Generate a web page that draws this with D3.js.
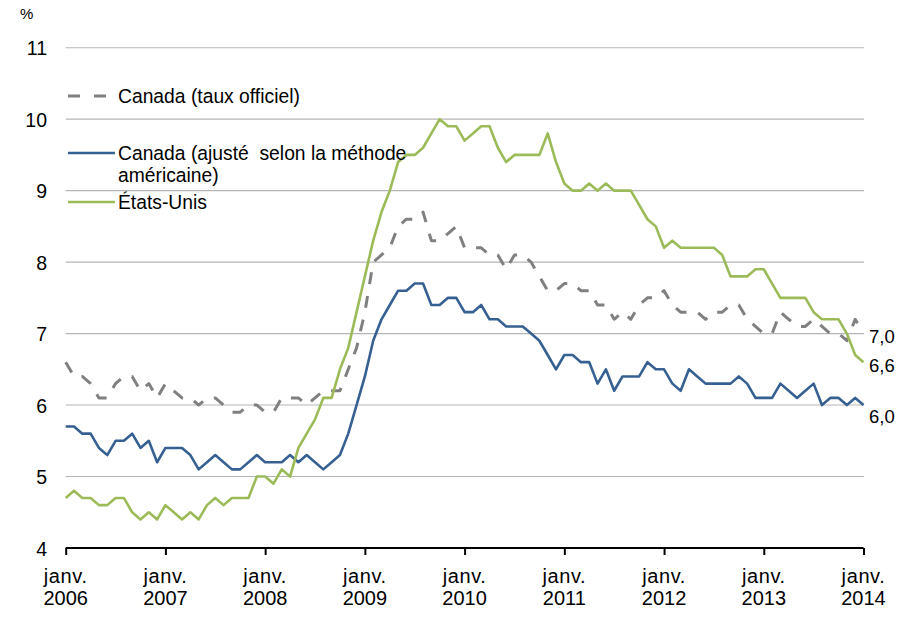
<!DOCTYPE html>
<html><head><meta charset="utf-8">
<script src="https://cdn.jsdelivr.net/npm/d3@7"></script>
<style>
body{margin:0;background:#fff}
svg{display:block}
text{font-family:"Liberation Sans",Arial,Helvetica,sans-serif;fill:#000}
</style>
</head><body>
<svg id="chart" width="900" height="622"></svg>
<script>
// ---- data (monthly, janv. 2006 to janv. 2014) ----
const tickYears = ["2006","2007","2008","2009","2010","2011","2012","2013","2014"];
const tickMonth = "janv.";
const yTicks = [4,5,6,7,8,9,10,11];
const unitLabel = "%";

const canadaOfficial = [
 6.6,6.4,6.4,6.3,6.1,6.1,6.3,6.4,6.4,6.2,6.3,6.1,
 6.3,6.2,6.1,6.1,6.0,6.1,6.1,6.0,5.9,5.9,6.0,6.0,
 5.9,5.9,6.1,6.1,6.1,6.0,6.1,6.2,6.2,6.2,6.5,6.8,
 7.3,8.0,8.1,8.2,8.5,8.6,8.6,8.7,8.3,8.3,8.4,8.5,
 8.2,8.2,8.2,8.1,8.1,7.9,8.1,8.1,8.0,7.8,7.6,7.6,
 7.7,7.7,7.6,7.6,7.4,7.4,7.2,7.3,7.2,7.4,7.5,7.5,
 7.6,7.4,7.3,7.3,7.3,7.2,7.3,7.3,7.4,7.4,7.2,7.1,
 7.0,7.0,7.3,7.2,7.1,7.1,7.2,7.1,7.0,7.0,6.9,7.2,
 7.0];

const canadaAdjusted = [
 5.7,5.7,5.6,5.6,5.4,5.3,5.5,5.5,5.6,5.4,5.5,5.2,
 5.4,5.4,5.4,5.3,5.1,5.2,5.3,5.2,5.1,5.1,5.2,5.3,
 5.2,5.2,5.2,5.3,5.2,5.3,5.2,5.1,5.2,5.3,5.6,6.0,
 6.4,6.9,7.2,7.4,7.6,7.6,7.7,7.7,7.4,7.4,7.5,7.5,
 7.3,7.3,7.4,7.2,7.2,7.1,7.1,7.1,7.0,6.9,6.7,6.5,
 6.7,6.7,6.6,6.6,6.3,6.5,6.2,6.4,6.4,6.4,6.6,6.5,
 6.5,6.3,6.2,6.5,6.4,6.3,6.3,6.3,6.3,6.4,6.3,6.1,
 6.1,6.1,6.3,6.2,6.1,6.2,6.3,6.0,6.1,6.1,6.0,6.1,
 6.0];

const unitedStates = [
 4.7,4.8,4.7,4.7,4.6,4.6,4.7,4.7,4.5,4.4,4.5,4.4,
 4.6,4.5,4.4,4.5,4.4,4.6,4.7,4.6,4.7,4.7,4.7,5.0,
 5.0,4.9,5.1,5.0,5.4,5.6,5.8,6.1,6.1,6.5,6.8,7.3,
 7.8,8.3,8.7,9.0,9.4,9.5,9.5,9.6,9.8,10.0,9.9,9.9,
 9.7,9.8,9.9,9.9,9.6,9.4,9.5,9.5,9.5,9.5,9.8,9.4,
 9.1,9.0,9.0,9.1,9.0,9.1,9.0,9.0,9.0,8.8,8.6,8.5,
 8.2,8.3,8.2,8.2,8.2,8.2,8.2,8.1,7.8,7.8,7.8,7.9,
 7.9,7.7,7.5,7.5,7.5,7.5,7.3,7.2,7.2,7.2,7.0,6.7,
 6.6];

const seriesNames = [
  ["Canada (taux officiel)"],
  ["Canada (ajusté\u00a0 selon la méthode", "américaine)"],
  ["États-Unis"]
];
const endLabels = ["7,0", "6,0", "6,6"];

// ---- styles ----
const colors = ["#808080", "#376092", "#9BBB59"];
const widths = [3, 2.6, 2.6];
const dashes = ["12,12", null, null];
const endDy = [3, 11, 3];

const svg = d3.select("#chart");
const x = d3.scaleLinear().domain([0, 96]).range([65.7, 863.5]);
const y = d3.scaleLinear().domain([4, 11]).range([548, 47.7]);

const series = [canadaOfficial, canadaAdjusted, unitedStates];

// gridlines
svg.append("g").selectAll("line").data(yTicks.filter(t => t > 4)).join("line")
  .attr("x1", x(0)).attr("x2", x(96) + 0.5)
  .attr("y1", d => y(d)).attr("y2", d => y(d))
  .attr("stroke", "#b5b5b5").attr("stroke-width", 1.1);

// y axis labels
const yAxis = d3.axisLeft(y).tickValues(yTicks).tickSize(0).tickPadding(0).tickFormat(d3.format("d"));
const yg = svg.append("g").attr("transform", "translate(47,0)").call(yAxis);
yg.select(".domain").remove();
yg.selectAll("text").attr("font-size", 19.5).attr("font-family", '"Liberation Sans",Arial,sans-serif').attr("fill", "#000").attr("dy", "0.36em");

svg.append("text").attr("x", 20).attr("y", 19).attr("font-size", 15).text(unitLabel);

// lines
const line = d3.line().x((d, i) => x(i)).y(d => y(d));
series.forEach((s, k) => {
  const p = svg.append("path").datum(s)
    .attr("d", line).attr("fill", "none")
    .attr("stroke", colors[k]).attr("stroke-width", widths[k])
    .attr("stroke-linejoin", "round");
  if (dashes[k]) p.attr("stroke-dasharray", dashes[k]);
});

// x axis
const xAxis = d3.axisBottom(x).tickValues(d3.range(0, 97, 12)).tickSize(7).tickFormat("");
const xg = svg.append("g").attr("transform", `translate(0,${y(4)})`).call(xAxis);
xg.select(".domain").attr("stroke", "#000").attr("stroke-width", 2).attr("d", `M${x(0)},0H${x(96)}`);
xg.selectAll(".tick line").attr("stroke", "#000").attr("stroke-width", 2);

const xl = svg.append("g");
tickYears.forEach((yr, i) => {
  const t = xl.append("text").attr("x", x(i * 12)).attr("text-anchor", "middle").attr("font-size", 20);
  t.append("tspan").attr("x", x(i * 12)).attr("y", 583).attr("letter-spacing", 0.6).text(tickMonth);
  t.append("tspan").attr("x", x(i * 12)).attr("y", 605).text(yr);
});

// end labels
series.forEach((s, k) => {
  svg.append("text").attr("x", 869).attr("y", y(s[s.length - 1]) + endDy[k])
    .attr("dy", "0.35em").attr("font-size", 18.5).text(endLabels[k]);
});

// legend
const legY = [96, 153, 202];
const legX2 = [106, 115, 115];
seriesNames.forEach((nm, k) => {
  const l = svg.append("line").attr("x1", 68).attr("x2", legX2[k]).attr("y1", legY[k]).attr("y2", legY[k])
    .attr("stroke", colors[k]).attr("stroke-width", widths[k]);
  if (dashes[k]) l.attr("stroke-dasharray", "12,14");
  const t = svg.append("text").attr("font-size", 19.3);
  nm.forEach((ln, j) => {
    t.append("tspan").attr("x", 118).attr("y", legY[k] + j * 22).attr("dy", "0.36em").text(ln);
  });
});
</script>
</body></html>
